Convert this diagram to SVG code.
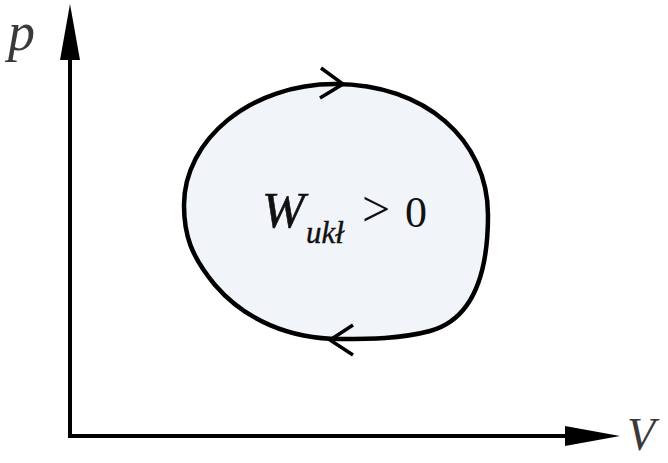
<svg xmlns="http://www.w3.org/2000/svg" width="668" height="463" viewBox="0 0 668 463">
<style>
.lbl{font-family:"Liberation Serif","DejaVu Serif",serif;font-style:italic;fill:#3a3a3a}
.m{font-family:"Liberation Serif","DejaVu Serif",serif;fill:#111}
.ax{stroke:#000;stroke-width:4;fill:none}
.cyc{stroke:#000;stroke-width:4.5;fill:#f1f4f9}
.chev{stroke:#000;stroke-width:3.5;fill:none;stroke-linecap:butt}
</style>
<rect width="668" height="463" fill="#fff"/>
<g id="connectors">
<line class="ax" x1="70" y1="438" x2="70" y2="55"/>
<polygon points="70,4 60,60 80,60" fill="#000"/>
<line class="ax" x1="68" y1="436" x2="570" y2="436"/>
<polygon points="620,436 565,426 565,446" fill="#000"/>
</g>
<g id="cycle">
<path class="cyc" d="M335 84 C425 84 488 140 488 215 C488 280 470 320 430 331 C400 339 370 339 340 339 C290 339 245 320 215 285 C191 256 184 235 184 205 C184 140 250 84 335 84 Z"/>
<polyline class="chev" points="321,68 343,84 320,98"/>
<polyline class="chev" points="353,325 330,340 353,355"/>
</g>
<g id="label-p"><text class="lbl" x="8" y="50" font-size="54">p</text></g>
<g id="label-V"><text class="lbl" x="627" y="450" font-size="46">V</text></g>
<g id="label-W">
<text class="m" x="262" y="227" font-size="51" font-style="italic" stroke="#111" stroke-width="0.6">W</text>
<text class="m" x="306" y="243" font-size="31" font-style="italic" stroke="#111" stroke-width="0.4">ukł</text>
<text class="m" x="362" y="226" font-size="50">&gt;</text>
<text class="m" x="405" y="227" font-size="44">0</text>
</g>
</svg>
